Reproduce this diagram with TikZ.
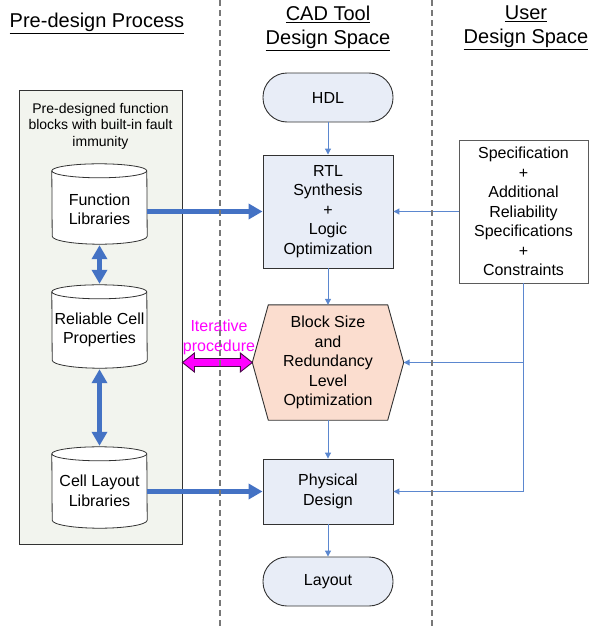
\documentclass[tikz,border=0pt]{standalone}
\usepackage{fontspec}
\setmainfont{Liberation Sans}
\usetikzlibrary{arrows.meta,calc,backgrounds}
\definecolor{boxfill}{RGB}{232,237,247}
\definecolor{hexfill}{RGB}{251,221,207}
\definecolor{panelfill}{RGB}{242,244,238}
\definecolor{thickblue}{RGB}{68,114,196}
\definecolor{thinblue}{RGB}{91,135,207}
\definecolor{edgegray}{RGB}{50,50,50}
\definecolor{sepgray}{RGB}{120,120,120}
\definecolor{magdark}{RGB}{70,10,70}
\definecolor{pinkmag}{RGB}{255,0,255}
\tikzset{
  txt/.style={font=\fontsize{16}{19.5}\selectfont, align=center, inner sep=0pt},
  procbox/.style={txt, draw=edgegray, fill=boxfill, line width=0.9pt, minimum width=130pt},
  term/.style={txt, draw=edgegray, fill=boxfill, line width=0.9pt, minimum width=130pt, minimum height=49pt, rounded corners=24pt},
  specbox/.style={txt, draw=edgegray!80, fill=white, line width=0.9pt, minimum width=129pt, minimum height=143pt},
  cylbody/.style={txt, minimum width=95pt},
  cylshape/.style={draw=edgegray, fill=white, line width=0.8pt},
  hexbody/.style={txt, minimum width=151pt, minimum height=115pt},
  hexshape/.style={draw=edgegray, fill=hexfill, line width=0.9pt},
  panelbox/.style={draw=edgegray, fill=panelfill, line width=0.9pt},
  title/.style={font=\fontsize{20}{24}\selectfont, align=center, inner sep=0pt},
  thinarrow/.style={draw=thinblue, line width=1pt, -{Triangle[length=6pt,width=6pt]}},
  thickarrow/.style={draw=thickblue, line width=4.5pt, -{Triangle[length=14pt,width=15pt]}},
  dblarrow/.style={draw=thickblue, line width=4.5pt, {Triangle[length=14pt,width=15pt]}-{Triangle[length=14pt,width=15pt]}},
  sepline/.style={draw=sepgray, line width=1.2pt, dash pattern=on 6pt off 4pt},
  magarrow/.style={draw=magdark, fill=pinkmag, line width=0.9pt, line join=miter},
}
% #1 node name, #2 how far above the node's top edge the top ellipse centre lies
\newcommand\mycylshape[2]{%
  \draw[cylshape] ($(#1.north west)+(0,-#2)$) arc[start angle=180,end angle=0,x radius=47.5pt,y radius=7pt]
    -- ($(#1.south east)+(0,-8)$) arc[start angle=0,end angle=-180,x radius=47.5pt,y radius=8pt] -- cycle;
  \draw[cylshape, fill=none] ($(#1.north west)+(0,-#2)$) arc[start angle=180,end angle=360,x radius=47.5pt,y radius=7pt];}
\begin{document}
\begin{tikzpicture}[x=1pt,y=-1pt]
\useasboundingbox (0,0) rectangle (589,629);

% titles
\node[title] (t1) at (97,23) {\underline{Pre-design Process}};
\node[title] (t2) at (328,28) {\underline{CAD Tool}\\\underline{Design Space}};
\node[title] (t3) at (526,28) {\underline{User}\\\underline{Design Space}};

% panel (background layer, drawn first)
\begin{scope}[on background layer]
\node[panelbox, minimum width=163pt, minimum height=454pt, inner sep=0pt] (panel) at (100.5,317) {};
\end{scope}
\node[font=\fontsize{14}{16.5}\selectfont, align=center, inner sep=0pt] (ptxt) at (100.5,126)
  {Pre-designed function\\blocks with built-in fault\\immunity};

% cylinders
\node[cylbody, minimum height=69pt] (c1) at (99.5,209.5) {Function\\Libraries};
\node[cylbody, minimum height=76pt] (c2) at (99.5,330) {Reliable Cell\\Properties};
\node[cylbody, minimum height=74pt] (c3) at (99.5,491) {Cell Layout\\Libraries};
\begin{scope}[on background layer]
  \mycylshape{c1}{4}
  \mycylshape{c2}{0}
  \mycylshape{c3}{0}
\end{scope}

% CAD flow
\node[term] (hdl) at (328,97.5) {HDL};
\node[procbox, minimum height=113pt] (rtl) at (328,211.5) {RTL\\Synthesis\\+\\Logic\\Optimization};
\node[hexbody] (hex) at (328,362.5) {Block Size\\and\\Redundancy\\Level\\Optimization};
\begin{scope}[on background layer]
  \draw[hexshape] (hex.west) -- ($(hex.north west)+(16,0)$) -- ($(hex.north east)+(-16,0)$)
    -- (hex.east) -- ($(hex.south east)+(-16,0)$) -- ($(hex.south west)+(16,0)$) -- cycle;
\end{scope}
\node[procbox, minimum height=65pt] (phys) at (328,491.5) {Physical\\Design};
\node[term] (lay) at (328,581.5) {Layout};

% user spec
\node[specbox] (spec) at (523.5,211.5) {Specification\\+\\Additional\\Reliability\\Specifications\\+\\Constraints};

% thin flow arrows
\draw[thinarrow] (hdl) -- (rtl);
\draw[thinarrow] (rtl) -- (hex);
\draw[thinarrow] (hex) -- (phys);
\draw[thinarrow] (phys) -- (lay);
\draw[thinarrow] (spec.west) -- (rtl.east |- spec.west);
\draw[thinarrow] (spec.south) |- (phys.east);
\draw[thinarrow] (spec.south |- hex.east) -- (hex.east);

% thick arrows
\draw[thickarrow] (c1.east |- rtl.west) -- (rtl.west);
\draw[thickarrow] (c3.east |- phys.west) -- (phys.west);
\draw[dblarrow, shorten <=1pt, shorten >=8pt] (c1.south) -- (c2.north);
\draw[dblarrow, shorten <=1pt, shorten >=8pt] (c2.south) -- (c3.north);

% iterative procedure
\coordinate (ml) at (panel.east |- hex.west);
\coordinate (mr) at (hex.west);
\draw[magarrow] let \p1=(ml), \p2=(mr) in
  (\x1,\y1) -- (\x1+12pt,\y1+9.5pt) -- (\x1+12pt,\y1+4pt) -- (\x2-12pt,\y1+4pt) -- (\x2-12pt,\y1+9.5pt)
  -- (\x2,\y2) -- (\x2-12pt,\y1-9.5pt) -- (\x2-12pt,\y1-4pt) -- (\x1+12pt,\y1-4pt) -- (\x1+12pt,\y1-9.5pt) -- cycle;
\node[txt, text=pinkmag] (iter) at (219,337.5) {Iterative\\procedure};

% separators
\draw[sepline] (220,0) -- (220,629);
\draw[sepline] (432,0) -- (432,629);
\end{tikzpicture}
\end{document}
